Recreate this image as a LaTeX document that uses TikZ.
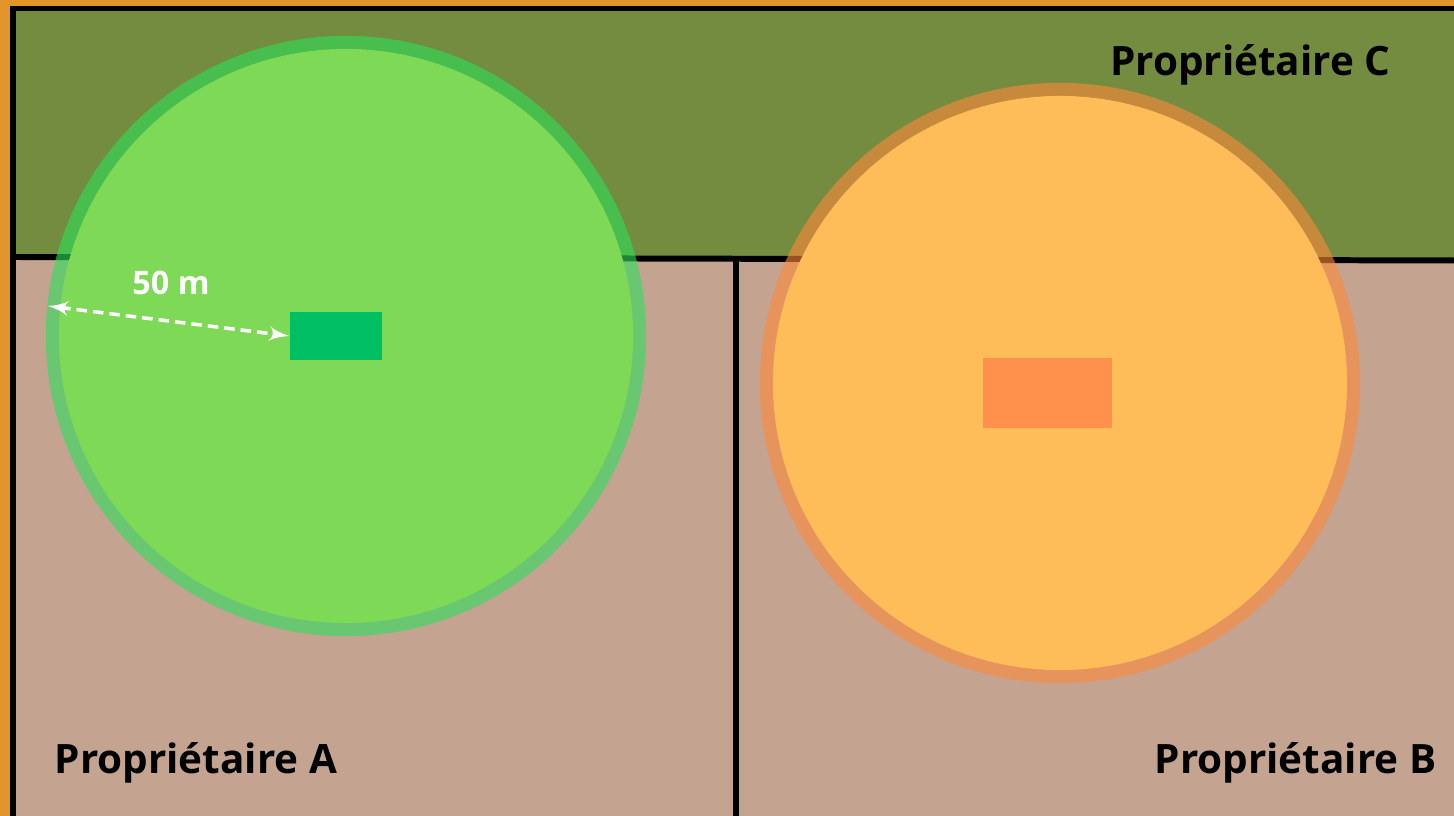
\documentclass[tikz,border=0pt]{standalone}
\usepackage{fontspec}
\setmainfont{Open Sans}
\usepackage{tikz}
\usetikzlibrary{arrows, positioning, calc}
\definecolor{BorderOrange}{HTML}{E3952A}
\definecolor{FieldOlive}{HTML}{748C40}
\definecolor{FieldBrown}{HTML}{C4A391}
\definecolor{ZoneGreen}{HTML}{7ED957}
\definecolor{RingGreen}{HTML}{2CE05A}
\definecolor{HouseGreen}{HTML}{00BF63}
\definecolor{ZoneOrange}{HTML}{FFBD59}
\definecolor{RingOrange}{HTML}{FF8A3A}
\definecolor{HouseOrange}{HTML}{FF914D}

\begin{document}
\begin{tikzpicture}[x=0.01cm, y=-0.01cm, >=latex']
    \tikzstyle{fence} = [draw=black, line width=1.7pt]
    \tikzstyle{owner} = [font=\bfseries\fontsize{11.5}{14}\selectfont, text=black, inner sep=0pt]
    \tikzstyle{house} = [rectangle, inner sep=0pt, draw=none]
    \tikzstyle{ring} = [line width=0.13cm, draw opacity=0.6]
    \tikzstyle{measure} = [draw=white, <->, line width=1pt, dash pattern=on 3pt off 1.7pt]

    \useasboundingbox (0,0) rectangle (1454,816);

    % parcels
    \fill[BorderOrange] (0,0) rectangle (1454,816);
    \fill[FieldOlive] (13,8) rectangle (1454,259);
    \fill[FieldBrown] (13,258) rectangle (1454,816);
    \coordinate (nw) at (13,8.5);
    \coordinate (ne) at (1454,8.5);
    \coordinate (sw) at (13,816);
    \coordinate (cw) at (13,257);
    \coordinate (ce) at (1454,260.5);
    \coordinate (ab) at (736,259);
    \coordinate (abs) at (736,816);
    \draw[fence] (nw) -- (ne);
    \draw[fence] ($(nw)+(0,-2)$) -- (sw);
    \draw[fence] (cw) -- (ce);
    \draw[fence] (ab) -- (abs);

    % protection zones
    \coordinate (gc) at (346,336);
    \coordinate (oc) at (1060,383);
    \fill[ZoneGreen] (gc) circle[radius=2.87cm];
    \draw[ring, RingGreen] (gc) circle[radius=2.935cm];
    \fill[ZoneOrange] (oc) circle[radius=2.87cm];
    \draw[ring, RingOrange] (oc) circle[radius=2.935cm];

    % houses
    \node[house, fill=HouseGreen, minimum width=0.92cm, minimum height=0.48cm] (houseA) at (336,336) {};
    \node[house, fill=HouseOrange, minimum width=1.29cm, minimum height=0.70cm] (houseB) at (1047.5,393) {};

    % distance
    \coordinate (zoneedge) at (48,306);
    \draw[measure] (zoneedge) -- (houseA.west);
    \node[font=\bfseries\fontsize{9.2}{11}\selectfont, text=white, inner sep=0pt] (dist) at (171,283) {50 m};

    \node[owner, anchor=east] (ownerC) at (1391,65) {Propriétaire C};
    \node[owner, anchor=west] (ownerA) at (54,763) {Propriétaire A};
    \node[owner, anchor=east] (ownerB) at (1437,763) {Propriétaire B};
\end{tikzpicture}
\end{document}
